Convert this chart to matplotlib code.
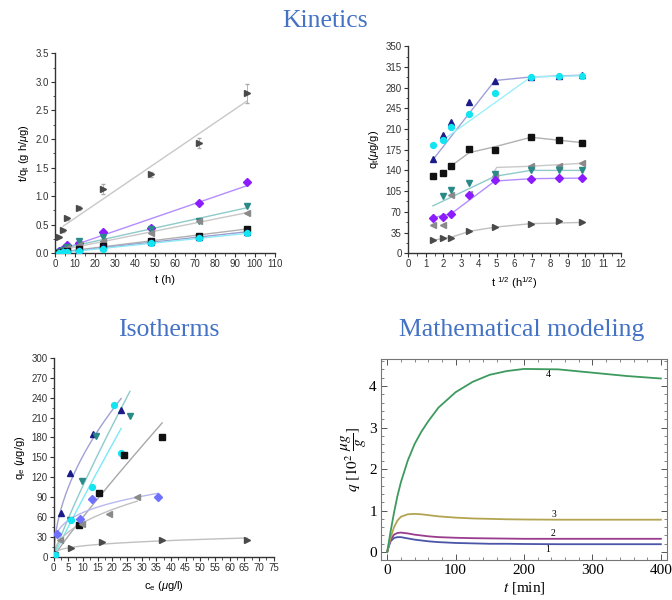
import numpy as np
import matplotlib
matplotlib.use("Agg")
import matplotlib.pyplot as plt
from matplotlib.ticker import MultipleLocator, AutoMinorLocator

plt.rcParams['font.family'] = ['Liberation Sans', 'DejaVu Sans']
plt.rcParams['mathtext.fontset'] = 'custom'
plt.rcParams['mathtext.rm'] = 'Liberation Sans'
plt.rcParams['mathtext.it'] = 'Liberation Sans:italic'

# ---- data: kinetics (contact time, h) ----
t_h = np.array([2, 4, 6, 12, 24, 48, 72, 96])

# t/q_t (g h/ug)
tq_right = [0.28, 0.40, 0.61, 0.79, 1.12, 1.38, 1.93, 2.80]
tq_diamond = [0.03, 0.08, 0.15, 0.17, 0.38, 0.45, 0.88, 1.25]
tq_down = [0.02, 0.06, 0.10, 0.22, 0.28, 0.42, 0.56, 0.82]
tq_left = [0.02, 0.05, 0.09, 0.15, 0.22, 0.35, 0.56, 0.70]
tq_square = [0.01, 0.02, 0.03, 0.07, 0.13, 0.21, 0.31, 0.43]
tq_up = [0.01, 0.02, 0.03, 0.05, 0.10, 0.19, 0.29, 0.37]
tq_circle = [0.01, 0.02, 0.02, 0.03, 0.08, 0.17, 0.26, 0.35]
tq_right_err = [0.02, 0.02, 0.03, 0.03, 0.09, 0.04, 0.08, 0.17]

# q_t (ug/g)
qt_up = [160, 200, 222, 255, 292, 298, 300, 301]
qt_circle = [183, 192, 213, 235, 271, 298, 300, 300]
qt_square = [130, 135, 148, 177, 174, 196, 192, 187]
qt_left = [48, 48, 98, 100, 130, 147, 148, 152]
qt_down = [np.nan, 96, 107, 118, 134, 140, 140, 140]
qt_diamond = [60, 62, 67, 98, 123, 126, 127, 127]
qt_right = [22, 26, 26, 37, 44, 50, 54, 52]

# intraparticle diffusion segments (sqrt t, q)
seg_up = ([1.41, 4.9, 6.93, 9.8], [158, 292, 298, 301])
seg_circle = ([2.0, 6.93, 9.8], [192, 298, 300])
seg_square = ([2.45, 3.46, 4.9, 6.93, 9.8], [148, 170, 180, 196, 187])
seg_left = ([4.9, 5.0, 6.93, 9.8], [140, 145, 147, 152])
seg_down = ([1.41, 4.9, 6.93, 9.8], [80, 130, 140, 140])
seg_diamond = ([1.41, 2.45, 4.9, 6.93, 9.8], [60, 67, 122, 126, 127])
seg_right = ([1.41, 2.45, 3.46, 4.9, 6.93, 9.8], [22, 27, 37, 44, 50, 52])

# ---- data: isotherms (c_e ug/l, q_e ug/g) ----
ce_up = [0.5, 2.5, 5.5, 13.5, 23]
qe_up = [5, 66, 127, 185, 222]
ce_circle = [0.5, 6, 13, 23, 20.5]
qe_circle = [3, 55, 105, 157, 229]
ce_down = [0.5, 5.5, 9.5, 14.5, 26]
qe_down = [3, 55, 115, 182, 212]
ce_square = [8.5, 15.5, 24, 37]
qe_square = [48, 97, 153, 180]
ce_diamond = [1, 9, 13, 35.5]
qe_diamond = [35, 57, 87, 91]
ce_left = [2, 9.5, 19, 28.5]
qe_left = [25, 50, 65, 90]
ce_right = [6, 16.5, 37, 66]
qe_right = [13, 23, 25, 26]

# ---- data: model curves (t min, q 10^2 ug/g) ----
t_min = [0, 2, 5, 10, 15, 20, 30, 40, 50, 60, 75, 100, 125, 150, 175, 200,
         250, 300, 350, 400]
q_model_1 = [0, 0.12, 0.26, 0.34, 0.36, 0.36, 0.33, 0.30, 0.28, 0.26, 0.24,
             0.22, 0.21, 0.20, 0.20, 0.195, 0.19, 0.19, 0.19, 0.19]
q_model_2 = [0, 0.13, 0.30, 0.42, 0.46, 0.47, 0.45, 0.42, 0.40, 0.38, 0.36,
             0.345, 0.335, 0.33, 0.325, 0.32, 0.32, 0.32, 0.32, 0.32]
q_model_3 = [0, 0.15, 0.35, 0.60, 0.76, 0.85, 0.91, 0.92, 0.91, 0.89, 0.86,
             0.83, 0.81, 0.80, 0.79, 0.785, 0.78, 0.78, 0.78, 0.78]
q_model_4 = [0, 0.20, 0.50, 0.95, 1.35, 1.68, 2.20, 2.60, 2.90, 3.15, 3.48,
             3.85, 4.10, 4.27, 4.36, 4.41, 4.40, 4.32, 4.24, 4.18]
model_labels = ['1', '2', '3', '4']

blue_title = '#4472C4'
c_up, c_circle, c_square = '#1b1b8a', '#12e4f0', '#111111'
c_left, c_down, c_diamond = '#8a8a8a', '#2a8a88', '#8c1cff'
c_right = '#4a4a4a'

fig = plt.figure(figsize=(6.72, 6.0), dpi=100)

def origin_axes(ax):
    for s in ['top', 'right']:
        ax.spines[s].set_visible(False)
    for s in ['left', 'bottom']:
        ax.spines[s].set_linewidth(1.0)
        ax.spines[s].set_color('#333333')
    ax.tick_params(which='major', direction='out', length=3, width=0.8,
                   labelsize=7, pad=1.5, colors='#333333')
    ax.tick_params(which='minor', direction='out', length=1.8, width=0.6,
                   colors='#333333')
    ax.xaxis.set_minor_locator(AutoMinorLocator(2))
    ax.yaxis.set_minor_locator(AutoMinorLocator(2))

ms = 4.2

# ---------------- top-left: t/q vs t ----------------
ax1 = fig.add_axes([0.082, 0.578, 0.327, 0.333])
kin_series = [
    (tq_right, '>', c_right, '#c8c8c8'),
    (tq_diamond, 'D', c_diamond, '#b58cff'),
    (tq_down, 'v', c_down, '#8fcaca'),
    (tq_left, '<', c_left, '#c8c8c8'),
    (tq_square, 's', c_square, '#b0b0b0'),
    (tq_up, '^', c_up, '#9c9cd0'),
    (tq_circle, 'o', c_circle, '#8feaf5'),
]
for y, m, c, lc in kin_series:
    y = np.array(y)
    x0 = t_h[1] if m == '>' else 0
    k = np.polyfit(t_h, y, 1)
    xf = np.array([x0, t_h[-1]])
    ax1.plot(xf, np.polyval(k, xf), color=lc, lw=1.0, zorder=1)
for y, m, c, lc in kin_series:
    ax1.plot(t_h, y, ls='none', marker=m, color=c,
             ms=ms if m != 'D' else ms - 0.6, zorder=3)
ax1.errorbar(t_h, tq_right, yerr=tq_right_err, fmt='none', ecolor='#aaaaaa',
             elinewidth=0.6, capsize=1.5, zorder=2)
ax1.set_xlim(0, 110)
ax1.set_ylim(0, 3.5)
ax1.xaxis.set_major_locator(MultipleLocator(10))
ax1.yaxis.set_major_locator(MultipleLocator(0.5))
ax1.yaxis.set_major_formatter(matplotlib.ticker.FormatStrFormatter('%.1f'))
origin_axes(ax1)
ax1.set_xlabel('t (h)', fontsize=8, labelpad=4)
ax1.set_ylabel(r't/q$_\mathregular{t}$ (g h/$\mu$g)', fontsize=8, labelpad=3)

# ---------------- top-right: q_t vs sqrt t ----------------
ax2 = fig.add_axes([0.607, 0.578, 0.317, 0.345])
st = np.sqrt(t_h)
diff_series = [
    (qt_up, seg_up, '^', c_up, '#a0a0d8'),
    (qt_circle, seg_circle, 'o', c_circle, '#9cf0f8'),
    (qt_square, seg_square, 's', c_square, '#b0b0b0'),
    (qt_left, seg_left, '<', c_left, '#c8c8c8'),
    (qt_down, seg_down, 'v', c_down, '#8fcaca'),
    (qt_diamond, seg_diamond, 'D', c_diamond, '#b58cff'),
    (qt_right, seg_right, '>', c_right, '#c0c0c0'),
]
for y, seg, m, c, lc in diff_series:
    ax2.plot(seg[0], seg[1], color=lc, lw=1.0, zorder=1)
for y, seg, m, c, lc in diff_series:
    ax2.plot(st, y, ls='none', marker=m, color=c,
             ms=ms if m != 'D' else ms - 0.6, zorder=3)
ax2.set_xlim(0, 12)
ax2.set_ylim(0, 350)
ax2.xaxis.set_major_locator(MultipleLocator(1))
ax2.yaxis.set_major_locator(MultipleLocator(35))
origin_axes(ax2)
ax2.set_xlabel(r't $^{1/2}$ (h$^{1/2}$)', fontsize=8, labelpad=4)
ax2.set_ylabel(r'q$_\mathregular{t}$($\mu$g/g)', fontsize=8, labelpad=3)

# ---------------- bottom-left: isotherms ----------------
ax3 = fig.add_axes([0.080, 0.0717, 0.327, 0.332])
iso_series = [
    (ce_up, qe_up, '^', c_up, '#a0a0d8'),
    (ce_down, qe_down, 'v', c_down, '#8fcaca'),
    (ce_circle, qe_circle, 'o', c_circle, '#7aeaf8'),
    (ce_square, qe_square, 's', c_square, '#a8a8a8'),
    (ce_diamond, qe_diamond, 'D', '#7070ff', '#b8b8f0'),
    (ce_left, qe_left, '<', c_left, '#c0c0c0'),
    (ce_right, qe_right, '>', c_right, '#c0c0c0'),
]
for ce, qe, m, c, lc in iso_series:
    ce = np.array(ce, float)
    qe = np.array(qe, float)
    keep = qe > 10
    n, lnk = np.polyfit(np.log(ce[keep]), np.log(qe[keep]), 1)
    cf = np.linspace(0.05, ce.max(), 200)
    ax3.plot(cf, np.exp(lnk) * cf ** n, color=lc, lw=1.0, zorder=1)
for ce, qe, m, c, lc in iso_series:
    ax3.plot(ce, qe, ls='none', marker=m, color=c,
             ms=ms if m != 'D' else ms - 0.6, zorder=3)
ax3.set_xlim(0, 75)
ax3.set_ylim(0, 300)
ax3.xaxis.set_major_locator(MultipleLocator(5))
ax3.yaxis.set_major_locator(MultipleLocator(30))
origin_axes(ax3)
ax3.set_xlabel(r'c$_\mathregular{e}$ ($\mu$g/l)', fontsize=8, labelpad=4)
ax3.set_ylabel(r'q$_\mathregular{e}$ ($\mu$g/g)', fontsize=8, labelpad=3)

# ---------------- bottom-right: mathematical model ----------------
ax4 = fig.add_axes([0.567, 0.0667, 0.4256, 0.335])
model_colors = ['#4b55a8', '#9a3c8e', '#b3a452', '#3d9a5e']
model_q = [q_model_1, q_model_2, q_model_3, q_model_4]
label_pos = [(235, 0.06), (243, 0.45), (243, 0.91), (235, 4.27)]
for q, c, lab, (lx, ly) in zip(model_q, model_colors, model_labels, label_pos):
    ax4.plot(t_min, q, color=c, lw=1.3)
    ax4.text(lx, ly, lab, fontsize=7, family='Liberation Serif',
             ha='center', va='center')
ax4.set_xlim(-9, 409)
ax4.set_ylim(-0.19, 4.65)
ax4.xaxis.set_major_locator(MultipleLocator(100))
ax4.xaxis.set_minor_locator(MultipleLocator(20))
ax4.yaxis.set_major_locator(MultipleLocator(1))
ax4.yaxis.set_minor_locator(MultipleLocator(0.2))
ax4.tick_params(which='both', direction='in', top=True, right=True,
                colors='#555555', labelcolor='black')
ax4.tick_params(which='major', length=4, width=0.7, labelsize=11, pad=3)
ax4.tick_params(which='minor', length=2, width=0.5)
for lab in ax4.get_xticklabels() + ax4.get_yticklabels():
    lab.set_family('Liberation Serif')
for s in ax4.spines.values():
    s.set_color('#777777')
    s.set_linewidth(0.8)
ax4.set_xlabel(r'$t$ [min]', fontsize=11, family='Liberation Serif',
               math_fontfamily='stix', labelpad=2)
ax4.set_ylabel(r'$q\ [10^2\ \dfrac{\mu g}{g}]$', fontsize=11,
               family='Liberation Serif', math_fontfamily='stix', labelpad=0)

# ---------------- section titles ----------------
title_kw = dict(fontsize=18.5, color=blue_title, family='Liberation Serif',
                ha='center', va='center')
fig.text(325 / 672, 1 - 21 / 600, 'Kinetics', **title_kw)
fig.text(169 / 672, 1 - 330 / 600, 'Isotherms', **title_kw)
fig.text(522 / 672, 1 - 330 / 600, 'Mathematical modeling', **title_kw)

fig.savefig('out.png', dpi=100)
